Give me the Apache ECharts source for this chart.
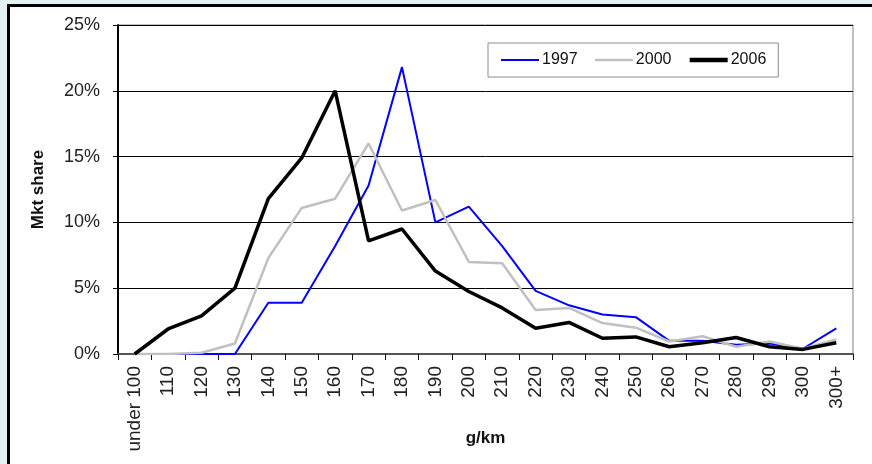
<!DOCTYPE html>
<html>
<head>
<meta charset="utf-8">
<script src="https://cdn.jsdelivr.net/npm/echarts@6/dist/echarts.min.js"></script>
<style>
  html, body { margin: 0; padding: 0; background: #e3f2f3; }
  #wrap { position: relative; width: 872px; height: 464px; overflow: hidden; }
  #frame { position: absolute; left: 7px; top: 4px; width: 880px; height: 480px;
           background: #fff; border-left: 3px solid #000; border-top: 3px solid #000; }
  #main { position: absolute; left: 0; top: 0; width: 872px; height: 464px; }
</style>
</head>
<body>
<div id="wrap">
  <div id="frame"></div>
  <div id="main"></div>
</div>
<script>
var categories = ['under 100', '110', '120', '130', '140', '150', '160', '170', '180', '190', '200',
  '210', '220', '230', '240', '250', '260', '270', '280', '290', '300', '300+'];
var share1997 = [0, 0, 0, 0, 3.9, 3.9, 8.2, 12.8, 21.8, 10.0, 11.2,
  8.2, 4.8, 3.7, 3.0, 2.8, 1.0, 1.0, 0.7, 0.8, 0.4, 1.95];
var share2000 = [0, 0, 0.1, 0.8, 7.3, 11.1, 11.8, 16.0, 10.9, 11.7, 7.0,
  6.9, 3.35, 3.5, 2.35, 2.0, 0.95, 1.35, 0.55, 0.95, 0.4, 1.1];
var share2006 = [0, 1.9, 2.9, 5.0, 11.8, 14.9, 20.0, 8.6, 9.5, 6.3, 4.75,
  3.5, 1.95, 2.4, 1.2, 1.3, 0.55, 0.85, 1.25, 0.55, 0.35, 0.85];
var yTicks = [0, 5, 10, 15, 20, 25];

var chart = echarts.init(document.getElementById('main'));

var option = {
  animation: false,
  textStyle: { fontFamily: 'Liberation Sans' },
  grid: {
    left: 118, right: 19, top: 25, bottom: 110,
    outerBoundsMode: 'none',
    containLabel: false,
    show: true, borderColor: '#808080', borderWidth: 1
  },
  legend: {
    left: 488, top: 43,
    padding: [9, 12, 9, 12],
    borderColor: '#8c8c8c', borderWidth: 1,
    itemWidth: 38, itemHeight: 14, itemGap: 16,
    itemStyle: { opacity: 0 },
    textStyle: { fontSize: 16, color: '#111', padding: [0, 0, 0, -2] },
    data: [
      { name: '1997', lineStyle: { width: 2 } },
      { name: '2000', lineStyle: { width: 2.5 } },
      { name: '2006', lineStyle: { width: 4.5 } }
    ]
  },
  xAxis: {
    type: 'category',
    data: categories,
    boundaryGap: true,
    name: 'g/km',
    nameLocation: 'middle',
    nameGap: 76,
    nameMoveOverlap: false,
    nameTextStyle: { fontSize: 17, fontWeight: 'bold', color: '#111' },
    axisLine: { lineStyle: { color: '#555', width: 2 } },
    axisTick: { show: true, length: 6, lineStyle: { color: '#111' } },
    axisLabel: { rotate: 90, fontSize: 19, color: '#222', margin: 12, interval: 0 },
    splitLine: { show: false }
  },
  yAxis: {
    type: 'value',
    min: yTicks[0], max: yTicks[yTicks.length - 1], interval: 5,
    name: 'Mkt share',
    nameLocation: 'middle',
    nameRotate: 90,
    nameGap: 71,
    nameMoveOverlap: false,
    nameTextStyle: { fontSize: 17, fontWeight: 'bold', color: '#111' },
    axisLine: { show: true, lineStyle: { color: '#000', width: 2 } },
    axisTick: { show: true, length: 5, lineStyle: { color: '#000' } },
    axisLabel: { formatter: '{value}%', fontSize: 18, color: '#222', margin: 18 },
    splitLine: { show: true, lineStyle: { color: '#000', width: 1 } }
  },
  series: [
    { name: '1997', type: 'line', data: share1997, symbol: 'none',
      lineStyle: { color: '#0000ff', width: 2 }, itemStyle: { color: '#0000ff' } },
    { name: '2000', type: 'line', data: share2000, symbol: 'none',
      lineStyle: { color: '#c0c0c0', width: 2.5 }, itemStyle: { color: '#c0c0c0' } },
    { name: '2006', type: 'line', data: share2006, symbol: 'none',
      lineStyle: { color: '#000', width: 3.5 }, itemStyle: { color: '#000' } }
  ]
};
chart.setOption(option);
</script>
</body>
</html>
